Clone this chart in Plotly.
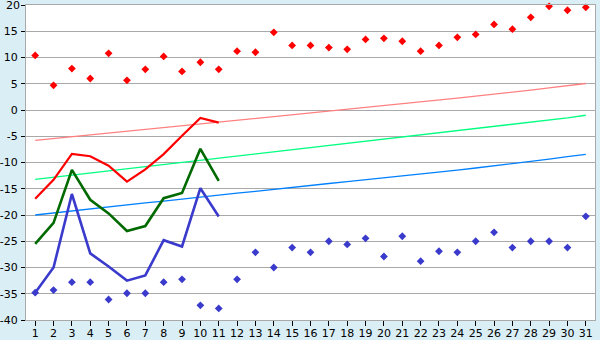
import plotly.graph_objects as go

days = list(range(1, 32))
y_ticks = [-40, -35, -30, -25, -20, -15, -10, -5, 0, 5, 10, 15, 20]

# observed series, days 1-11
obs_days = list(range(1, 12))
obs_max = [-16.9, -13.3, -8.35, -8.8, -10.6, -13.65, -11.3, -8.4, -4.9, -1.5, -2.4]
obs_mean = [-25.5, -21.5, -11.4, -17.1, -19.7, -23.05, -22.1, -16.8, -15.8, -7.4, -13.5]
obs_min = [-34.8, -30.0, -16.0, -27.3, -29.8, -32.5, -31.5, -24.8, -26.0, -14.9, -20.3]

# normals
norm_max = [-5.8, -5.45, -5.1, -4.75, -4.4, -4.1, -3.75, -3.4, -3.05, -2.75, -2.4,
            -2.05, -1.7, -1.35, -1.0, -0.65, -0.3, 0.05, 0.4, 0.75, 1.15, 1.5,
            1.9, 2.25, 2.65, 3.0, 3.4, 3.8, 4.2, 4.6, 5.05]
norm_mean = [-13.2, -12.8, -12.4, -12.0, -11.6, -11.2, -10.8, -10.4, -10.0, -9.6, -9.2,
             -8.8, -8.4, -8.0, -7.6, -7.2, -6.8, -6.4, -6.0, -5.6, -5.2, -4.8,
             -4.4, -4.0, -3.6, -3.2, -2.8, -2.4, -2.0, -1.5, -1.0]
norm_min = [-20.0, -19.6, -19.2, -18.8, -18.45, -18.1, -17.7, -17.35, -16.95, -16.6, -16.2,
            -15.85, -15.5, -15.1, -14.75, -14.4, -14.0, -13.65, -13.3, -12.9, -12.55, -12.2,
            -11.8, -11.45, -11.05, -10.65, -10.25, -9.8, -9.35, -8.9, -8.45]

# records
rec_max = [10.4, 4.7, 7.9, 6.0, 10.8, 5.65, 7.75, 10.2, 7.35, 9.1, 7.75,
           11.2, 11.0, 14.8, 12.3, 12.3, 11.9, 11.55, 13.45, 13.65, 13.1, 11.2,
           12.3, 13.85, 14.4, 16.3, 15.4, 17.65, 19.75, 19.0, 19.55]
rec_min = [-34.8, -34.3, -32.8, -32.8, -36.1, -34.9, -34.9, -32.8, -32.25, -37.2, -37.8,
           -32.25, -27.1, -30.0, -26.2, -27.1, -25.0, -25.6, -24.45, -27.9, -24.05, -28.8,
           -26.9, -27.1, -25.0, -23.3, -26.2, -25.0, -25.0, -26.2, -20.25]

fig = go.Figure()
fig.add_trace(go.Scatter(x=days, y=norm_max, mode="lines", line=dict(color="#FF8080", width=1.3)))
fig.add_trace(go.Scatter(x=days, y=norm_mean, mode="lines", line=dict(color="#00FF80", width=1.3)))
fig.add_trace(go.Scatter(x=days, y=norm_min, mode="lines", line=dict(color="#0080FF", width=1.3)))
fig.add_trace(go.Scatter(x=days, y=rec_max, mode="markers", cliponaxis=False,
                         marker=dict(symbol="diamond", size=6, color="#FF0000")))
fig.add_trace(go.Scatter(x=days, y=rec_min, mode="markers", cliponaxis=False,
                         marker=dict(symbol="diamond", size=6, color="#3A3ACC")))
fig.add_trace(go.Scatter(x=obs_days, y=obs_max, mode="lines", line=dict(color="#FF0000", width=2.2)))
fig.add_trace(go.Scatter(x=obs_days, y=obs_mean, mode="lines", line=dict(color="#006A00", width=2.6)))
fig.add_trace(go.Scatter(x=obs_days, y=obs_min, mode="lines", line=dict(color="#3A3ACC", width=2.6)))

fig.update_layout(
    width=600, height=340,
    margin=dict(l=26, r=5, t=5, b=20),
    paper_bgcolor="#DAEEF5",
    plot_bgcolor="#FFFFFF",
    showlegend=False,
    font=dict(family="DejaVu Sans", size=11, color="#000000"),
)
# top tick label (plotly drops it at the div edge), drawn as real text
fig.add_annotation(x=0, xref="paper", y=y_ticks[-1], yref="y", text=str(y_ticks[-1]),
                   showarrow=False, xanchor="right", yanchor="middle", xshift=-4,
                   font=dict(size=11, family="DejaVu Sans", color="#000000"))
fig.update_xaxes(
    range=[0.5, 31.5], tickmode="array", tickvals=days, ticktext=[str(d) for d in days],
    showgrid=False, zeroline=False, automargin=False,
    showline=True, linecolor="#A9A9A9", linewidth=1, mirror=True,
    ticks="outside", ticklen=5, tickcolor="#000000", tickwidth=1,
    tickfont=dict(size=11), ticklabelstandoff=-2,
)
fig.update_yaxes(
    range=[-40, 20], tickmode="array", tickvals=y_ticks, ticktext=[str(v) for v in y_ticks],
    automargin=False,
    showgrid=True, gridcolor="#A9A9A9", gridwidth=1, zeroline=False,
    showline=True, linecolor="#A9A9A9", linewidth=1, mirror=True,
    ticks="outside", ticklen=4, tickcolor="#000000", tickwidth=1,
    tickfont=dict(size=11), ticklabelstandoff=1,
)

fig.write_html("out.html")
